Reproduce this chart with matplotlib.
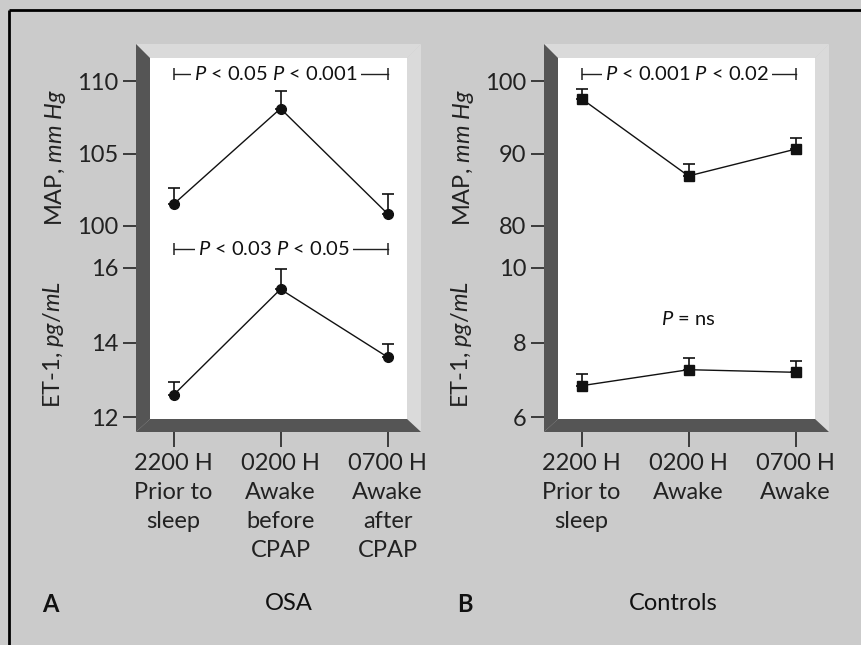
import matplotlib
matplotlib.use('Agg')
import matplotlib.pyplot as plt
from matplotlib.patches import Polygon, Rectangle
import matplotlib.transforms as mtransforms

plt.rcParams['font.family'] = ['Lato', 'DejaVu Sans']
plt.rcParams['mathtext.fontset'] = 'custom'
plt.rcParams['mathtext.rm'] = 'Lato'
plt.rcParams['mathtext.it'] = 'Lato:italic'
plt.rcParams['mathtext.bf'] = 'Lato:bold'

# ---------------- data ----------------
x_pos = [0, 1, 2]
osa_labels = ["2200 H\nPrior to\nsleep", "0200 H\nAwake\nbefore\nCPAP", "0700 H\nAwake\nafter\nCPAP"]
ctrl_labels = ["2200 H\nPrior to\nsleep", "0200 H\nAwake", "0700 H\nAwake"]

osa_map = [101.5, 108.1, 100.85]
osa_map_err = [1.15, 1.2, 1.35]
osa_et1 = [12.59, 15.43, 13.61]
osa_et1_err = [0.36, 0.53, 0.34]

ctrl_map = [97.56, 86.9, 90.6]
ctrl_map_err = [1.35, 1.6, 1.6]
ctrl_et1 = [6.84, 7.27, 7.20]
ctrl_et1_err = [0.31, 0.31, 0.30]

osa_map_ticks = [100, 105, 110]
osa_et1_ticks = [12, 14, 16]
ctrl_map_ticks = [80, 90, 100]
ctrl_et1_ticks = [6, 8, 10]

osa_map_p = r"$P$ < 0.05 $P$ < 0.001"
osa_et1_p = r"$P$ < 0.03 $P$ < 0.05"
ctrl_map_p = r"$P$ < 0.001 $P$ < 0.02"
ctrl_et1_p = r"$P$ = ns"

# ---------------- layout (pixels) ----------------
W, H, DPI = 861, 645, 100
BG = '#cbcbcb'
LIGHT = '#dadada'
DARK = '#555555'
FS = 17
FS_P = 14.5

fig = plt.figure(figsize=(W / DPI, H / DPI), dpi=DPI, facecolor=BG)
ax_bg = fig.add_axes([0, 0, 1, 1], zorder=0)
ax_bg.set_xlim(0, W)
ax_bg.set_ylim(H, 0)
ax_bg.axis('off')

# border (top and left)
ax_bg.plot([9, W], [10, 10], color='black', lw=2.0, solid_capstyle='butt')
ax_bg.plot([9, 9], [10, H], color='black', lw=2.0, solid_capstyle='butt')


def px_rect(x0, y0, x1, y1):
    return [x0 / W, 1 - y1 / H, (x1 - x0) / W, (y1 - y0) / H]


def ylim_for(lo, hi, py_lo, py_hi, top, bot):
    scale = (py_lo - py_hi) / (hi - lo)
    return lo - (bot - py_lo) / scale, hi + (py_hi - top) / scale


def draw_frame(dx):
    L, T, R, B = 136 + dx, 44, 421 + dx, 432
    l, t, r, b = 150 + dx, 58, 407 + dx, 419
    ax_bg.add_patch(Polygon([(L, T), (R, T), (r, t), (l, t)], closed=True, fc=LIGHT, ec='none'))
    ax_bg.add_patch(Polygon([(R, T), (R, B), (r, b), (r, t)], closed=True, fc=LIGHT, ec='none'))
    ax_bg.add_patch(Polygon([(L, T), (l, t), (l, b), (L, B)], closed=True, fc=DARK, ec='none'))
    ax_bg.add_patch(Polygon([(L, B), (l, b), (r, b), (R, B)], closed=True, fc=DARK, ec='none'))
    ax_bg.add_patch(Rectangle((l, t), r - l, b - t, fc='white', ec='none'))


def bracket(ax, yfrac, text, cx):
    trans = mtransforms.blended_transform_factory(ax.transData, ax.transAxes)
    ax.plot([0, 2], [yfrac, yfrac], color='#222222', lw=1.0, transform=trans, clip_on=False)
    ax.plot([0, 2], [yfrac, yfrac], ls='none', marker='|', ms=8.5, mew=1.1,
            color='#222222', transform=trans, clip_on=False)
    ax.text(cx, yfrac, text, transform=trans, ha='center', va='center', fontsize=FS_P,
            color='#111111', bbox=dict(fc='white', ec='none', pad=2.5))


def panel(dx, map_v, map_e, et_v, et_e, map_ticks, et_ticks, labels, marker, ms,
          map_p, map_cx, et_p, et_cx, et_pfrac, letter, title, title_x):
    draw_frame(dx)
    ax_l, ax_r = 136 + dx, 421 + dx
    xlim = (-(173.5 - 136) / 107.0, 2 + (421 - 387.5) / 107.0)

    ax1 = fig.add_axes(px_rect(ax_l, 44, ax_r, 240), zorder=2)
    ax2 = fig.add_axes(px_rect(ax_l, 245, ax_r, 432), zorder=2)
    for ax in (ax1, ax2):
        ax.patch.set_alpha(0)
        for s in ax.spines.values():
            s.set_visible(False)
        ax.set_xlim(*xlim)
        ax.tick_params(axis='y', direction='out', length=9.4, width=1.2, pad=3.5,
                       labelsize=FS, color='#222222', labelcolor='#222222')
    ax1.set_ylim(*ylim_for(map_ticks[0], map_ticks[-1], 226, 81, 44, 240))
    ax2.set_ylim(*ylim_for(et_ticks[0], et_ticks[-1], 417, 268, 245, 432))
    ax1.set_yticks(map_ticks)
    ax2.set_yticks(et_ticks)
    ax1.tick_params(axis='x', bottom=False, labelbottom=False)
    ax2.set_xticks(x_pos)
    ax2.set_xticklabels(labels, linespacing=1.48)
    ax2.tick_params(axis='x', direction='out', length=10.8, width=1.2, pad=4,
                    labelsize=FS, color='#222222', labelcolor='#222222')

    for ax, v, e in ((ax1, map_v, map_e), (ax2, et_v, et_e)):
        ax.errorbar(x_pos, v, yerr=[[0] * len(e), e], fmt='-', marker=marker, ms=ms,
                    color='#111111', lw=1.0, elinewidth=1.2, capsize=4, capthick=1.2,
                    clip_on=False)

    bracket(ax1, 0.847, map_p, map_cx)
    if et_pfrac is None:
        bracket(ax2, 0.979, et_p, et_cx)
    else:
        ax2.text(et_cx, et_pfrac, et_p, transform=mtransforms.blended_transform_factory(
            ax2.transData, ax2.transAxes), ha='center', va='center', fontsize=FS_P,
            color='#111111')

    # axis titles
    ax_bg.text(55 + dx, 157, r"MAP, $mm\ Hg$", rotation=90,
               ha='center', va='center', fontsize=FS, color='#222222')
    ax_bg.text(53 + dx, 345, r"ET-1, $pg/mL$", rotation=90,
               ha='center', va='center', fontsize=FS, color='#222222')
    ax_bg.text(letter[1], 604, letter[0], ha='center', va='center', fontsize=FS,
               weight='bold', color='#111111')
    ax_bg.text(title_x, 604, title, ha='center', va='center', fontsize=FS, color='#111111')


panel(0, osa_map, osa_map_err, osa_et1, osa_et1_err, osa_map_ticks, osa_et1_ticks,
      osa_labels, 'o', 7.0, osa_map_p, 0.96, osa_et1_p, 0.94, None, ('A', 50), 'OSA', 289)
panel(408, ctrl_map, ctrl_map_err, ctrl_et1, ctrl_et1_err, ctrl_map_ticks, ctrl_et1_ticks,
      ctrl_labels, 's', 6.5, ctrl_map_p, 0.985, ctrl_et1_p, 1.0, 0.604, ('B', 465), 'Controls', 673)

fig.savefig('out.png', dpi=DPI, facecolor=BG)
